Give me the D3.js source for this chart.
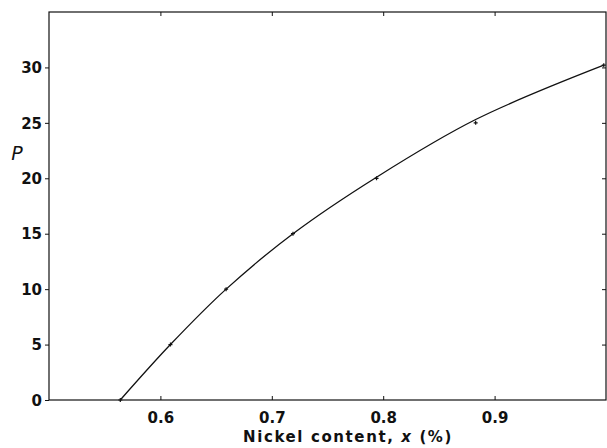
<!DOCTYPE html>
<html><head><meta charset="utf-8">
<script src="https://cdn.jsdelivr.net/npm/d3@7"></script>
<style>
body{margin:0;background:#fff;}
text{font-family:"DejaVu Sans","Liberation Sans",sans-serif;fill:#111;}
</style></head>
<body><svg id="c" width="607" height="448"></svg>
<script>
// Data
const nickel = [0.564, 0.609, 0.659, 0.719, 0.794, 0.883, 0.998];
const pValues = [0, 5, 10, 15, 20, 25, 30.2];
// Fitted curve
const fitX = [0.564, 0.609, 0.659, 0.719, 0.794, 0.883, 0.998];
const fitP = [0, 5.0, 10.0, 15.0, 20.1, 25.3, 30.2];
const xTicks = [0.6, 0.7, 0.8, 0.9];
const yTicks = [0, 5, 10, 15, 20, 25, 30];

const svg = d3.select("#c");
const L = 49, R = 606, T = 12, B = 400;
const x = d3.scaleLinear().domain([0.5, 1.0]).range([L, R]);
const y = d3.scaleLinear().domain([0, 35]).range([B, T]);

const g = svg.append("g");
// frame
g.append("rect").attr("x", L).attr("y", T).attr("width", R - L).attr("height", B - T)
  .attr("fill", "none").attr("stroke", "#111").attr("stroke-width", 1.2);

// left axis
const yAxis = d3.axisLeft(y).tickValues(yTicks).tickSize(4).tickPadding(3).tickFormat(d3.format("d"));
const ya = g.append("g").attr("transform", `translate(${L},0)`).call(yAxis);
ya.select(".domain").remove();
ya.selectAll("text").style("font-size", "15px").style("font-weight", "bold").attr("dy", "0.35em");
ya.selectAll("line").attr("stroke", "#111");

// bottom axis (ticks inward)
const xAxis = d3.axisBottom(x).tickValues(xTicks).tickSize(-4).tickPadding(12).tickFormat(d3.format(".1f"));
const xa = g.append("g").attr("transform", `translate(0,${B})`).call(xAxis);
xa.select(".domain").remove();
xa.selectAll("text").style("font-size", "15px").style("font-weight", "bold");
xa.selectAll("line").attr("stroke", "#111");

// right axis ticks inward
const ra = g.append("g").attr("transform", `translate(${R},0)`)
  .call(d3.axisRight(y).tickValues(yTicks.slice(1)).tickSize(-4).tickFormat(""));
ra.select(".domain").remove();
ra.selectAll("line").attr("stroke", "#111");

// top ticks inward
const ta = g.append("g").attr("transform", `translate(0,${T})`)
  .call(d3.axisTop(x).tickValues(xTicks).tickSize(-4).tickFormat(""));
ta.select(".domain").remove();
ta.selectAll("line").attr("stroke", "#111");

// curve
const line = d3.line().x(d => x(d[0])).y(d => y(d[1])).curve(d3.curveCatmullRom.alpha(0.5));
g.append("path").datum(fitX.map((v, i) => [v, fitP[i]]))
  .attr("d", line).attr("fill", "none").attr("stroke", "#111").attr("stroke-width", 1.3);

// points (small crosses)
g.selectAll("path.pt").data(nickel.map((v, i) => [v, pValues[i]])).enter().append("path")
  .attr("class", "pt")
  .attr("d", d => `M${x(d[0]) - 2},${y(d[1])}h4M${x(d[0])},${y(d[1]) - 2}v4`)
  .attr("stroke", "#111").attr("stroke-width", 1.2);

// labels
svg.append("text").attr("x", 17).attr("y", 160).attr("text-anchor", "middle")
  .style("font-size", "19px").style("font-style", "italic").text("P");
const xt = svg.append("text").attr("x", 348).attr("y", 442).attr("text-anchor", "middle")
  .style("font-size", "15px").style("font-weight", "bold").style("letter-spacing", "1.6px");
xt.append("tspan").text("Nickel content, ");
xt.append("tspan").style("font-style", "italic").text("x");
xt.append("tspan").text(" (%)");
</script></body></html>
